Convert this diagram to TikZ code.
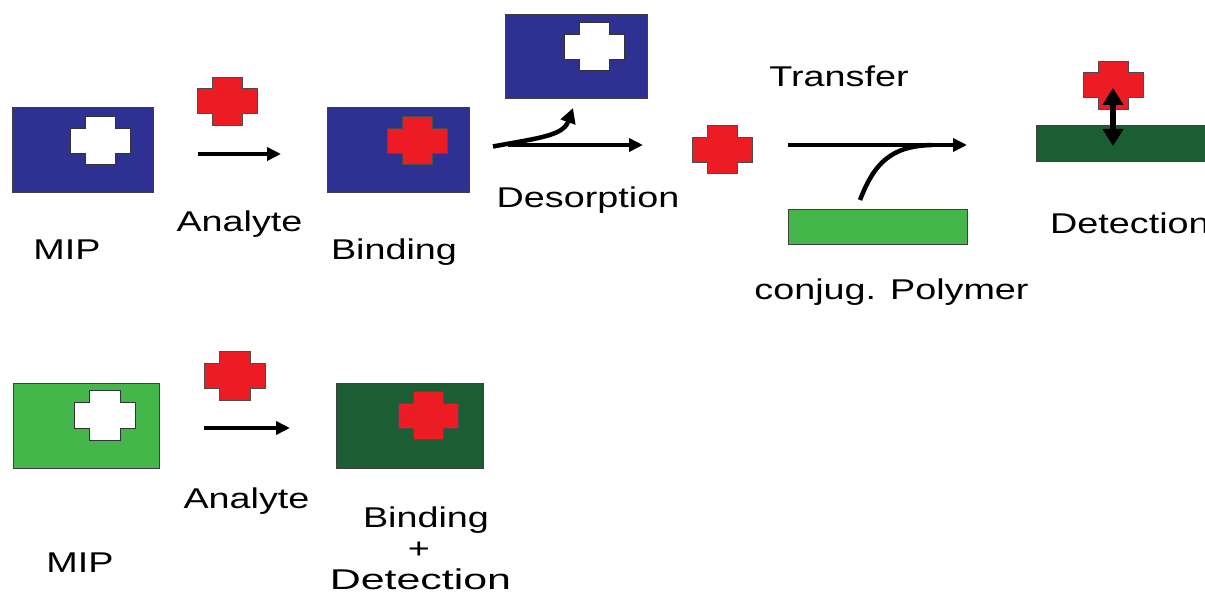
\documentclass[tikz,border=0pt]{standalone}
\usepackage{graphicx}
\usepackage{fontspec}
\setmainfont{Liberation Sans}
\usetikzlibrary{arrows.meta}
\definecolor{mipblue}{HTML}{2E3192}
\definecolor{anred}{HTML}{ED1C24}
\definecolor{lgreen}{HTML}{45B64A}
\definecolor{dgreen}{HTML}{1C5E33}
\newcommand{\wtext}[2][1.32]{\scalebox{#1}[1]{#2}}
\begin{document}
\begin{tikzpicture}[x=1pt,y=-1pt,
  box/.style={draw=black!75, line width=1pt, inner sep=0pt},
  lbl/.style={inner sep=0pt, anchor=base, font=\fontsize{28.6}{34}\selectfont},
  plus/.pic={\path[pic actions] (-15,-24) -- (15,-24) -- (15,-12.5) -- (30,-12.5) -- (30,12.5) -- (15,12.5) -- (15,24) -- (-15,24) -- (-15,12.5) -- (-30,12.5) -- (-30,-12.5) -- (-15,-12.5) -- cycle;},
  hole/.style={fill=white, draw=black!80, line width=1pt},
  ana/.style={fill=anred, draw=black!70, line width=1pt},
  arr/.style={line width=3.7pt, -{Triangle[length=14pt,width=13pt]}},
  thick curve/.style={line width=4.5pt}
]
\path[use as bounding box] (0,0) rectangle (1205,596);
\clip (0,0) rectangle (1205,596);

% ---------- top row ----------
\node[box, fill=mipblue, minimum width=141pt, minimum height=85pt] (mip1) at (82.5,150.5) {};
\pic[hole] at (100.5,141) {plus};
\node[lbl] (tmip1) at (67,259) {\wtext{MIP}};

\pic[ana] at (227.5,101.5) {plus};
\coordinate (a1s) at (198,154);
\coordinate (a1e) at (281,154);
\draw[arr] (a1s) -- (a1e);
\node[lbl] (tana1) at (239.5,232) {\wtext{Analyte}};

\node[box, fill=mipblue, minimum width=142pt, minimum height=85pt] (bind1) at (398,150.5) {};
\pic[ana] at (417.5,141) {plus};
\node[lbl] (tbind1) at (394,260) {\wtext{Binding}};

\node[box, fill=mipblue, minimum width=142pt, minimum height=84pt] (desb) at (576,57) {};
\pic[hole] at (594.5,47) {plus};

\coordinate (d0) at (493,146.5);
\coordinate (ds) at (508,145);
\coordinate (de) at (643,145);
\coordinate (du) at (573,108);
\draw[arr] (ds) -- (de);
\draw[line width=4.5pt, -{Triangle[length=15pt,width=15pt]}] (d0) .. controls (538,138) and (563,136) .. (du);
\node[lbl] (tdes) at (588,208) {\wtext{Desorption}};

\pic[ana] at (722.5,150) {plus};
\node[lbl] (ttrans) at (839,87) {\wtext{Transfer}};
\coordinate (ts) at (788,145);
\coordinate (te) at (967,145);
\coordinate (tc) at (860,200);
\coordinate (tm) at (932,145);
\draw[arr] (ts) -- (te);
\draw[thick curve] (tc) .. controls (874,164) and (890,146) .. (tm);

\node[box, fill=lgreen, minimum width=179pt, minimum height=35pt] (poly) at (877.5,227.5) {};
\node[lbl] (tpoly) at (891.5,299) {\wtext{conjug. Polymer}};

\node[box, fill=dgreen, minimum width=200pt, minimum height=36pt] (detb) at (1136,144) {};
\pic[ana] at (1113,85.5) {plus};
\coordinate (dt1) at (1113,88);
\coordinate (dt2) at (1113,146);
\draw[line width=5.5pt, {Triangle[length=17pt,width=20pt]}-{Triangle[length=17pt,width=20pt]}] (dt1) -- (dt2);
\node[lbl, anchor=base west] (tdet1) at (1050,234) {\wtext{Detection}};

% ---------- bottom row ----------
\node[box, fill=lgreen, minimum width=146pt, minimum height=85pt] (mip2) at (86,425.5) {};
\pic[hole, scale=1.03] at (105,415.5) {plus};
\node[lbl] (tmip2) at (80,572) {\wtext{MIP}};

\pic[ana, scale=1.03] at (235,376) {plus};
\coordinate (b1s) at (204,428);
\coordinate (b1e) at (290,428);
\draw[arr] (b1s) -- (b1e);
\node[lbl] (tana2) at (246.5,508) {\wtext{Analyte}};

\node[box, fill=dgreen, minimum width=147pt, minimum height=85pt] (bind2) at (409.5,425.5) {};
\pic[ana] at (428,415.5) {plus};
\node[lbl] (tbind2) at (426,527) {\wtext{Binding}};
\node[lbl] (tplus) at (419,558) {\wtext{+}};
\node[lbl] (tdet2) at (420.5,589) {\wtext[1.5]{Detection}};
\end{tikzpicture}
\end{document}
